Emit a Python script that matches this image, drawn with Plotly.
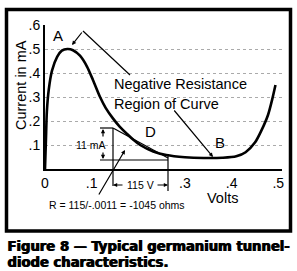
import plotly.graph_objects as go

# ---- data (volts, mA) ----
volts = [0, 0.002, 0.004, 0.008, 0.015, 0.026, 0.036, 0.048, 0.06, 0.075, 0.09, 0.103,
         0.118, 0.13, 0.146, 0.16, 0.176, 0.19, 0.204, 0.232, 0.26, 0.3, 0.34, 0.38,
         0.41, 0.43, 0.45, 0.465, 0.478, 0.487, 0.494]
current_ma = [0, 0.12, 0.24, 0.33, 0.41, 0.467, 0.493, 0.5, 0.495, 0.472, 0.427, 0.37,
              0.3, 0.255, 0.21, 0.177, 0.146, 0.121, 0.1, 0.073, 0.058, 0.049, 0.046, 0.047,
              0.053, 0.07, 0.11, 0.165, 0.225, 0.29, 0.35]
x_tickvals = [0, 0.1, 0.3, 0.4, 0.5]
x_ticktext = ["0", ".1", ".3", ".4", ".5"]
y_tickvals = [0.1, 0.2, 0.3, 0.4, 0.5, 0.6]
y_ticktext = [".1", ".2", ".3", ".4", ".5", ".6"]

W, H = 297, 271
L, R, T, B = 45, 15, 25, 102
PW, PH = W - L - R, H - T - B

FONT = "Liberation Sans, Arial, sans-serif"


def px(X):
    return (X - L) / PW


def py(Y):
    return (H - B - Y) / PH


fig = go.Figure()
fig.add_trace(go.Scatter(x=volts, y=current_ma, mode="lines",
                         line=dict(color="black", width=2.6, shape="spline", smoothing=0.8),
                         hoverinfo="skip", showlegend=False))

shapes = []


def seg(x0, y0, x1, y1, w=1.2):
    shapes.append(dict(type="line", xref="paper", yref="paper",
                       x0=px(x0), y0=py(y0), x1=px(x1), y1=py(y1),
                       line=dict(color="black", width=w)))


# outer frame
shapes.append(dict(type="rect", xref="paper", yref="paper",
                   x0=px(6.5), y0=py(9.5), x1=px(290.5), y1=py(231),
                   line=dict(color="black", width=3.5)))
# A pointer
seg(83, 31, 130, 75)
# triangle construction
seg(113, 128, 113, 186)
seg(100, 128, 113, 128)
seg(100, 160, 168, 160)
seg(113, 128, 168, 158)
seg(168, 155, 168, 191)
fig.update_layout(shapes=shapes)

ann = []


def text(X, Y, s, size=14, xanchor="center", **kw):
    ann.append(dict(x=px(X), y=py(Y), xref="paper", yref="paper", text=s, showarrow=False,
                    xanchor=xanchor, yanchor="middle",
                    font=dict(family=FONT, size=size, color="black"), **kw))


def arrow(hx, hy, tx, ty, size=0.7):
    ann.append(dict(x=px(hx), y=py(hy), xref="paper", yref="paper", text="",
                    showarrow=True, ax=tx - hx, ay=ty - hy, arrowhead=2, arrowsize=size,
                    arrowwidth=1.2, arrowcolor="black"))


text(58, 35, "A", 15)
arrow(72, 45, 83, 31)
text(112, 84, "Negative Resistance", 14.5, xanchor="left")
text(112, 104, "Region of Curve", 14.5, xanchor="left")
arrow(213, 157, 173, 109)
text(220, 142, "B", 15)
text(150, 131, "D", 15)
text(91, 145, "11 mA", 10.5)
arrow(103, 129, 103, 138)
arrow(103, 159, 103, 151)
text(140, 185, "115 V", 10.5)
arrow(113, 185, 124, 185)
arrow(168, 185, 156, 185)
arrow(125, 150, 98, 196)
text(117, 205, "R = 115/-.0011 = -1045 ohms", 10.5)
text(222, 198, "Volts", 14.5)
text(21, 85, "Current in mA", 14.5, textangle=-90)
cap_font = dict(family="DejaVu Sans, sans-serif", size=13.2, color="black")
for shift in (0, 0.7):
    ann.append(dict(x=px(5), y=py(246), xref="paper", yref="paper", showarrow=False,
                    xanchor="left", yanchor="middle", xshift=shift,
                    text="<b>Figure 8 \u2014 Typical germanium tunnel-</b>", font=cap_font))
    ann.append(dict(x=px(5), y=py(262), xref="paper", yref="paper", showarrow=False,
                    xanchor="left", yanchor="middle", xshift=shift,
                    text="<b>diode characteristics.</b>", font=cap_font))
fig.update_layout(annotations=ann)

fig.update_xaxes(range=[0, 0.508], tickvals=x_tickvals, ticktext=x_ticktext,
                 showline=True, linecolor="black", linewidth=2, showgrid=False,
                 zeroline=False, ticks="", tickfont=dict(family=FONT, size=14, color="black"))
fig.update_yaxes(range=[0, 0.6], tickvals=y_tickvals, ticktext=y_ticktext,
                 showline=True, linecolor="black", linewidth=2, showgrid=True,
                 gridcolor="#aaaaaa", griddash="dot", gridwidth=1,
                 zeroline=False, ticks="", tickfont=dict(family=FONT, size=14, color="black"))
fig.update_layout(width=W, height=H, margin=dict(l=L, r=R, t=T, b=B),
                  plot_bgcolor="white", paper_bgcolor="white")
fig.write_html("out.html")
